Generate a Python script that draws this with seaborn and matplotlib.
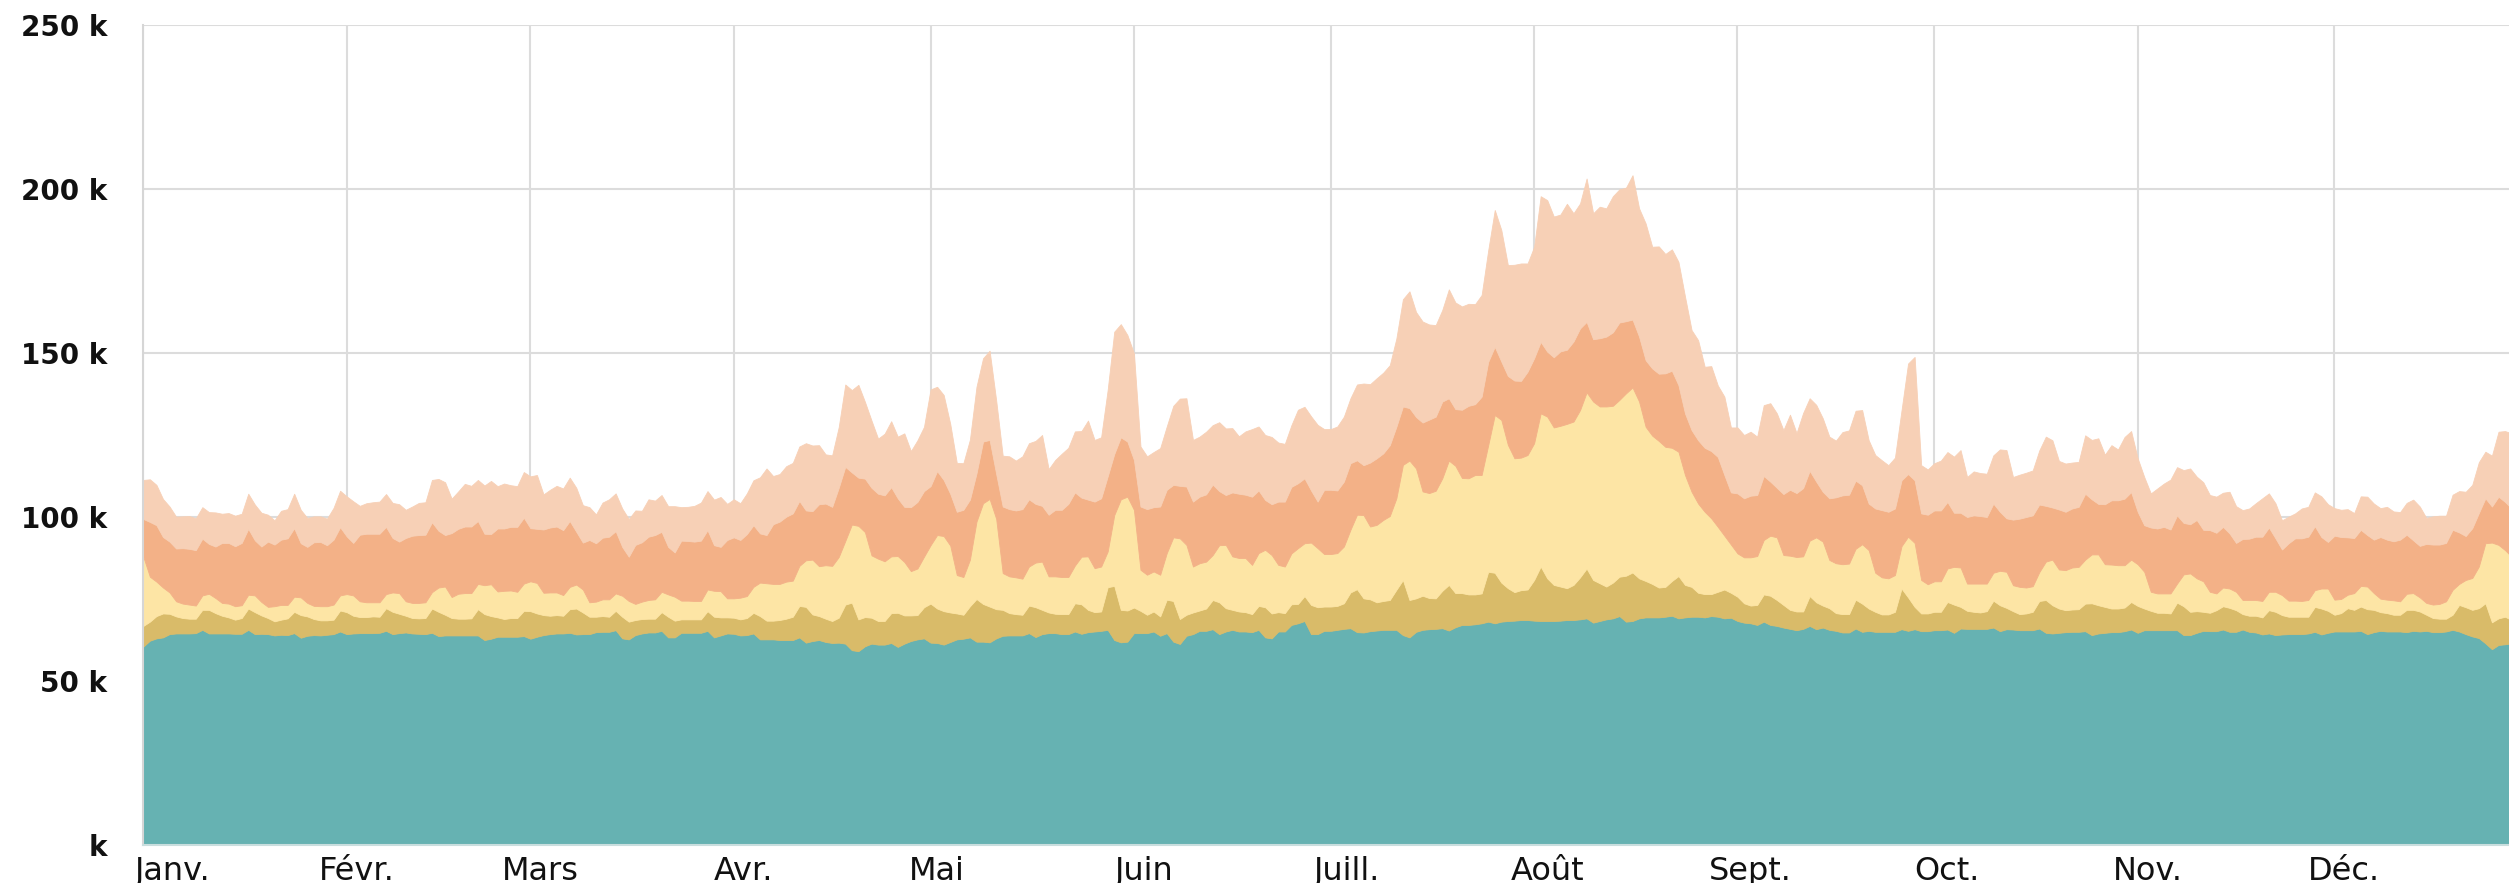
import numpy as np
import pandas as pd
import matplotlib
matplotlib.use("Agg")
import matplotlib.pyplot as plt
import seaborn as sns

# ---------------------------------------------------------
# data: daily values (k), Jan 1 -> late Dec, one list per layer
# ---------------------------------------------------------
teal = [
    60.5, 62.3, 63.0, 63.3, 64.3, 64.5, 64.5, 64.5, 64.6, 65.6,
    64.5, 64.5, 64.5, 64.5, 64.4, 64.4, 65.6, 64.3, 64.4, 64.3,
    63.9, 64.1, 64.0, 64.6, 63.2, 63.8, 64.0, 63.9, 64.1, 64.3,
    65.1, 64.3, 64.5, 64.6, 64.6, 64.6, 64.7, 65.3, 64.3, 64.6,
    64.8, 64.5, 64.4, 64.3, 64.7, 63.7, 63.9, 63.9, 63.9, 63.9,
    63.9, 63.9, 62.5, 62.9, 63.5, 63.5, 63.5, 63.5, 63.7, 62.9,
    63.5, 64.0, 64.3, 64.5, 64.5, 64.7, 64.2, 64.3, 64.3, 64.9,
    65.0, 65.0, 65.5, 63.0, 62.7, 64.0, 64.5, 64.8, 64.8, 65.3,
    63.3, 63.3, 64.7, 64.7, 64.7, 64.7, 65.3, 63.3, 63.9, 64.5,
    64.4, 63.9, 64.0, 64.5, 62.7, 62.7, 62.7, 62.5, 62.5, 62.5,
    63.3, 61.7, 62.2, 62.5, 61.9, 61.6, 61.7, 61.4, 59.4, 59.1,
    60.6, 61.4, 61.1, 61.1, 61.6, 60.4, 61.4, 62.2, 62.7, 63.0,
    61.7, 61.6, 61.1, 61.9, 62.7, 62.9, 63.3, 62.0, 62.0, 61.8,
    63.0, 63.8, 63.9, 63.9, 63.9, 64.6, 63.4, 64.3, 64.6, 64.6,
    64.3, 64.3, 65.1, 64.4, 64.9, 65.1, 65.3, 65.6, 62.5, 61.8,
    62.0, 64.6, 64.6, 64.6, 65.1, 63.8, 64.6, 62.0, 61.3, 63.8,
    64.3, 65.3, 65.3, 65.8, 64.3, 65.1, 65.6, 65.1, 65.1, 64.9,
    65.6, 63.3, 63.0, 65.1, 65.1, 67.1, 67.6, 68.3, 64.3, 64.3,
    65.3, 65.3, 65.6, 65.9, 66.1, 64.9, 64.8, 65.2, 65.4, 65.6,
    65.6, 65.6, 64.0, 63.3, 65.0, 65.6, 65.8, 65.9, 66.1, 65.4,
    66.4, 67.1, 67.1, 67.3, 67.6, 68.1, 67.6, 68.1, 68.3, 68.4,
    68.6, 68.6, 68.4, 68.3, 68.3, 68.3, 68.4, 68.6, 68.6, 68.8,
    69.1, 67.8, 68.3, 68.8, 69.1, 69.8, 68.1, 68.3, 69.1, 69.4,
    69.4, 69.4, 69.6, 69.9, 69.1, 69.4, 69.6, 69.6, 69.4, 69.8,
    69.6, 69.1, 69.3, 68.3, 67.8, 67.6, 67.1, 68.1, 67.1, 66.8,
    66.3, 65.9, 65.5, 65.9, 66.8, 65.8, 66.3, 65.6, 65.3, 64.8,
    64.8, 66.0, 65.0, 65.3, 65.0, 65.0, 65.0, 65.0, 65.8, 65.3,
    65.8, 65.2, 65.2, 65.5, 65.5, 65.7, 64.7, 66.0, 65.9, 65.9,
    65.9, 65.9, 66.3, 65.2, 65.8, 65.7, 65.5, 65.5, 65.5, 66.0,
    64.7, 64.5, 64.7, 64.9, 65.0, 65.0, 65.2, 64.0, 64.5, 64.7,
    64.9, 64.9, 65.2, 65.7, 64.7, 65.5, 65.5, 65.5, 65.5, 65.5,
    65.5, 64.0, 64.0, 64.7, 65.3, 65.2, 65.2, 65.7, 65.0, 65.0,
    65.7, 65.0, 64.8, 64.2, 64.5, 64.0, 64.2, 64.3, 64.3, 64.3,
    64.5, 65.0, 64.2, 64.7, 65.1, 65.1, 65.1, 65.1, 65.3, 64.3,
    64.9, 65.3, 65.1, 65.1, 65.1, 64.9, 65.3, 65.1, 65.3, 64.9,
    64.9, 65.1, 65.6, 65.1, 64.3, 63.6, 63.1, 61.5, 59.7, 61.0,
    61.2, 61.5,
]

dark_yellow = [
    6.3, 5.8, 6.8, 7.3, 6.2, 5.2, 4.7, 4.5, 4.4, 6.1,
    7.2, 6.2, 5.4, 4.9, 4.3, 4.8, 6.5, 6.7, 5.6, 4.9,
    4.3, 4.6, 5.1, 6.5, 6.9, 5.9, 4.9, 4.6, 4.4, 4.4,
    6.4, 6.7, 5.4, 4.9, 4.9, 5.1, 4.9, 6.9, 6.8, 5.9,
    5.1, 4.7, 4.7, 4.9, 7.4, 7.4, 6.3, 5.3, 5.1, 5.1,
    5.2, 8.0, 7.9, 6.9, 5.9, 5.4, 5.7, 5.7, 7.7, 8.4,
    7.1, 6.1, 5.6, 5.6, 5.4, 7.2, 7.9, 6.6, 5.3, 4.7,
    4.8, 4.6, 5.9, 6.6, 5.4, 4.6, 4.4, 4.2, 4.2, 5.7,
    6.3, 5.1, 4.1, 4.1, 4.1, 4.1, 6.0, 6.3, 5.5, 4.9,
    4.9, 4.9, 5.2, 6.3, 7.1, 5.7, 5.7, 6.1, 6.5, 7.1,
    9.6, 10.9, 8.1, 7.3, 7.1, 6.7, 7.6, 11.9, 14.5, 9.7,
    8.9, 7.9, 7.2, 7.2, 9.1, 10.4, 8.6, 7.8, 7.4, 9.5,
    11.9, 10.5, 10.2, 9.0, 7.9, 7.3, 9.5, 13.0, 11.5, 10.9,
    8.9, 7.9, 6.8, 6.5, 6.3, 8.4, 9.1, 7.4, 6.3, 5.9,
    6.1, 6.1, 8.6, 9.0, 6.8, 5.9, 5.9, 13.0, 16.5, 9.9,
    9.5, 7.8, 6.8, 5.6, 6.1, 5.9, 10.2, 12.4, 7.6, 6.4,
    6.6, 6.2, 6.8, 8.9, 9.7, 7.1, 6.1, 6.1, 5.9, 5.5,
    7.3, 9.2, 7.6, 5.9, 5.6, 6.3, 5.9, 7.6, 8.9, 8.2,
    7.4, 7.4, 7.3, 7.8, 10.9, 13.1, 10.4, 9.7, 8.6, 8.8,
    9.1, 12.2, 16.8, 11.4, 10.2, 10.4, 9.5, 9.3, 11.4, 13.9,
    10.4, 9.7, 9.3, 9.1, 9.1, 15.2, 15.4, 11.9, 10.0, 8.7,
    9.1, 9.3, 12.4, 16.6, 13.0, 11.0, 10.4, 9.7, 10.7, 12.8,
    15.2, 13.0, 11.5, 10.0, 10.9, 12.0, 14.0, 14.8, 12.2, 11.1,
    10.2, 9.1, 9.1, 10.6, 12.9, 9.9, 9.1, 7.3, 7.1, 6.7,
    7.6, 8.8, 7.6, 7.4, 5.9, 5.4, 6.1, 8.3, 8.9, 7.9,
    6.9, 5.8, 5.7, 5.3, 9.1, 8.2, 6.7, 6.6, 5.4, 5.6,
    5.6, 8.8, 8.6, 6.8, 6.1, 5.3, 5.3, 6.1, 12.4, 10.2,
    6.8, 5.4, 5.4, 5.6, 5.6, 8.4, 8.6, 6.6, 5.5, 5.2,
    5.0, 5.4, 8.2, 7.9, 6.5, 5.6, 4.9, 5.1, 5.6, 8.4,
    10.0, 8.6, 7.4, 6.7, 6.8, 6.9, 8.4, 9.7, 8.6, 7.9,
    7.2, 7.2, 7.2, 8.4, 8.2, 6.6, 5.9, 5.3, 5.3, 5.1,
    8.4, 8.8, 7.1, 6.6, 5.8, 5.6, 6.4, 7.1, 7.3, 6.6,
    4.7, 4.9, 5.1, 5.2, 7.1, 7.1, 5.9, 5.3, 5.3, 5.3,
    5.1, 7.6, 7.9, 6.7, 5.1, 5.6, 7.1, 6.6, 7.4, 7.6,
    6.8, 5.7, 5.6, 5.1, 5.1, 6.8, 6.4, 6.1, 4.9, 4.3,
    4.1, 3.9, 4.6, 8.1, 8.2, 8.1, 9.1, 12.2, 8.2, 8.1,
    8.4, 7.1,
]

light_yellow = [
    21.1, 13.7, 10.5, 7.9, 6.5, 4.6, 4.4, 4.3, 4.0, 4.4,
    4.9, 4.6, 3.9, 4.2, 4.1, 3.9, 4.2, 5.1, 4.1, 3.4,
    4.6, 4.5, 4.1, 4.6, 5.4, 4.1, 4.0, 4.3, 4.3, 4.6,
    4.6, 5.5, 6.2, 4.8, 4.5, 4.3, 4.4, 4.3, 5.9, 6.3,
    4.4, 4.6, 4.7, 4.8, 5.0, 7.4, 8.6, 6.4, 7.6, 7.8,
    7.7, 7.7, 8.8, 9.7, 7.9, 8.6, 8.4, 8.0, 8.3, 9.1,
    9.3, 6.8, 7.1, 6.9, 6.3, 6.8, 7.3, 7.0, 4.4, 4.6,
    5.1, 5.3, 5.3, 6.4, 6.3, 4.9, 5.3, 5.7, 5.9, 6.2,
    6.8, 7.3, 5.7, 5.7, 5.6, 5.6, 6.6, 7.9, 8.0, 5.8,
    5.9, 6.6, 6.7, 7.9, 10.2, 11.4, 11.2, 11.0, 11.3, 11.0,
    12.2, 14.2, 16.7, 15.2, 16.3, 16.8, 18.5, 19.4, 23.8, 28.5,
    25.9, 19.0, 19.0, 18.2, 17.3, 17.3, 16.3, 13.5, 14.2, 15.4,
    17.8, 22.4, 22.9, 20.4, 11.7, 11.5, 14.2, 23.6, 30.7, 32.8,
    27.6, 11.2, 11.2, 11.2, 11.0, 11.9, 13.6, 14.7, 11.0, 11.4,
    11.3, 11.3, 11.5, 14.5, 16.3, 13.4, 13.7, 10.9, 21.6, 33.7,
    34.7, 29.8, 12.5, 12.2, 12.2, 12.7, 14.2, 19.4, 24.6, 21.3,
    14.0, 14.4, 14.3, 13.7, 17.4, 19.3, 16.3, 16.3, 16.5, 15.0,
    16.1, 17.5, 17.8, 14.4, 14.2, 15.5, 17.0, 16.1, 19.0, 18.0,
    16.0, 16.0, 16.1, 17.3, 19.1, 22.7, 25.4, 22.2, 23.6, 24.7,
    25.6, 27.9, 35.1, 42.5, 39.6, 31.8, 32.0, 32.8, 34.3, 37.9,
    38.8, 35.1, 35.4, 36.4, 36.1, 38.6, 48.1, 49.6, 43.7, 40.8,
    40.4, 41.0, 41.7, 46.7, 49.3, 48.0, 49.0, 50.1, 49.8, 51.0,
    53.7, 54.4, 53.9, 54.9, 53.9, 53.9, 55.6, 56.4, 53.9, 47.0,
    45.2, 44.7, 42.7, 40.6, 37.9, 33.5, 29.0, 27.2, 25.1, 23.1,
    19.8, 16.4, 14.7, 13.2, 14.0, 14.7, 14.9, 16.6, 18.3, 19.1,
    15.2, 16.5, 16.6, 16.8, 16.9, 19.8, 19.5, 14.7, 15.2, 15.2,
    15.4, 15.5, 18.1, 17.8, 11.9, 11.3, 11.0, 11.2, 12.9, 18.5,
    19.5, 10.2, 8.9, 9.3, 9.3, 10.2, 11.5, 12.0, 8.3, 8.6,
    8.8, 8.4, 8.5, 10.5, 11.0, 7.9, 8.3, 7.9, 7.8, 8.8,
    11.7, 13.9, 11.9, 12.2, 12.8, 12.9, 13.4, 14.9, 15.5, 13.0,
    13.4, 13.2, 12.9, 12.9, 12.7, 11.2, 5.8, 5.9, 5.9, 6.1,
    5.8, 9.7, 11.7, 10.0, 9.3, 6.4, 5.1, 5.7, 5.9, 5.6,
    4.3, 4.8, 4.8, 5.0, 5.6, 6.1, 6.1, 4.9, 4.9, 4.8,
    5.1, 5.1, 6.1, 6.8, 4.6, 4.3, 4.1, 5.1, 6.3, 6.9,
    5.1, 4.1, 4.1, 4.4, 4.1, 4.9, 5.1, 4.3, 3.6, 4.1,
    4.5, 5.3, 7.6, 6.4, 8.3, 9.7, 12.7, 18.3, 24.3, 22.4,
    20.3, 19.3,
]

orange = [
    11.5, 16.7, 17.2, 15.4, 15.5, 16.1, 16.9, 17.0, 16.9, 17.3,
    15.2, 15.7, 18.3, 18.5, 18.3, 19.0, 20.1, 16.8, 16.9, 19.9,
    18.8, 19.9, 20.3, 20.9, 16.5, 17.1, 19.4, 19.6, 18.6, 19.8,
    20.8, 17.6, 16.0, 20.3, 20.9, 20.9, 20.9, 20.5, 16.6, 15.7,
    19.3, 20.5, 20.7, 20.6, 21.3, 17.3, 15.7, 19.5, 19.8, 20.3,
    20.3, 19.2, 15.7, 15.3, 19.2, 19.0, 19.4, 19.8, 20.1, 16.2,
    16.5, 19.3, 19.8, 20.1, 19.8, 20.1, 16.1, 14.3, 19.0, 17.8,
    18.8, 19.1, 19.0, 14.9, 13.5, 18.0, 18.1, 19.3, 19.6, 18.3,
    14.5, 13.5, 18.3, 18.2, 18.1, 18.4, 18.1, 13.9, 13.5, 17.8,
    18.6, 17.6, 18.9, 18.8, 15.0, 14.7, 18.2, 19.0, 19.8, 20.5,
    19.8, 15.2, 14.8, 18.9, 18.8, 18.0, 21.1, 22.6, 15.9, 14.7,
    16.3, 20.6, 19.8, 20.1, 21.1, 17.6, 16.8, 19.5, 20.3, 20.0,
    18.0, 19.5, 17.1, 15.8, 19.3, 20.5, 18.3, 14.7, 18.8, 18.0,
    13.7, 20.3, 20.5, 20.4, 21.2, 20.5, 17.9, 17.0, 18.8, 20.3,
    20.5, 22.3, 22.3, 18.0, 17.3, 20.3, 20.8, 22.9, 18.6, 18.9,
    16.8, 15.2, 19.3, 20.0, 19.6, 20.8, 19.3, 16.0, 16.0, 17.8,
    19.8, 20.3, 20.5, 21.5, 16.5, 15.2, 19.5, 19.6, 19.3, 20.8,
    19.1, 15.2, 15.5, 19.3, 19.8, 20.3, 19.8, 19.8, 15.9, 14.2,
    19.6, 19.6, 19.1, 19.8, 20.3, 16.6, 15.2, 19.5, 20.3, 20.3,
    21.6, 21.8, 17.8, 16.0, 15.7, 21.0, 22.4, 22.6, 23.4, 19.0,
    17.3, 20.8, 22.1, 21.6, 23.9, 25.4, 20.8, 17.8, 21.0, 23.7,
    23.4, 25.4, 25.9, 21.8, 19.8, 21.4, 22.7, 22.6, 24.4, 24.9,
    21.5, 19.0, 20.8, 21.3, 22.4, 23.6, 22.0, 20.7, 19.8, 20.3,
    20.5, 20.5, 22.4, 23.5, 20.3, 18.8, 18.8, 19.3, 19.5, 20.5,
    21.3, 18.5, 15.9, 18.3, 18.0, 18.8, 18.6, 19.5, 16.5, 15.1,
    18.6, 20.1, 19.5, 20.8, 21.3, 17.0, 15.2, 18.8, 20.1, 21.0,
    21.0, 20.8, 18.0, 14.2, 19.6, 20.5, 20.3, 20.3, 20.1, 19.1,
    19.1, 20.3, 21.2, 21.6, 21.6, 20.3, 16.5, 16.7, 20.3, 20.8,
    20.6, 20.3, 21.1, 18.0, 16.3, 20.0, 20.8, 21.5, 21.6, 20.6,
    17.0, 15.9, 18.3, 17.8, 18.0, 18.3, 20.1, 16.8, 15.4, 18.3,
    19.6, 19.8, 20.3, 20.6, 16.0, 14.2, 19.6, 19.8, 20.3, 19.5,
    20.8, 15.7, 15.0, 17.8, 15.7, 18.8, 18.5, 18.5, 16.8, 14.9,
    18.6, 18.7, 19.3, 19.6, 19.6, 16.3, 13.9, 17.5, 19.0, 19.1,
    19.3, 19.5, 15.7, 14.2, 19.5, 18.9, 17.5, 16.8, 17.1, 15.7,
    16.3, 18.8, 18.3, 18.0, 18.8, 18.0, 16.1, 15.7, 18.0, 18.3,
    18.1, 17.8, 18.3, 15.7, 13.4, 15.2, 16.3, 13.7, 11.0, 14.7,
    14.7, 14.7,
]

peach = [
    11.9, 13.0, 12.3, 11.6, 10.7, 9.7, 9.7, 10.0, 9.7, 9.6,
    9.7, 10.4, 8.9, 9.1, 9.3, 8.9, 10.7, 10.9, 10.3, 8.2,
    7.4, 8.8, 8.9, 10.5, 10.2, 8.8, 7.9, 7.8, 8.1, 9.7,
    11.1, 12.2, 12.7, 8.8, 9.3, 9.6, 9.8, 10.0, 10.7, 11.4,
    8.6, 8.9, 9.8, 9.9, 12.9, 15.8, 16.1, 10.5, 11.4, 13.0,
    12.4, 12.5, 14.7, 16.2, 12.9, 13.7, 12.7, 12.4, 13.9, 15.8,
    16.4, 10.7, 11.5, 12.4, 12.7, 13.2, 13.4, 11.4, 10.0, 8.8,
    10.7, 11.4, 11.5, 11.7, 11.5, 10.5, 9.6, 11.4, 10.5, 11.2,
    12.4, 14.1, 10.2, 10.4, 10.9, 11.6, 11.9, 13.9, 15.2, 11.0,
    11.6, 11.2, 12.4, 13.7, 17.1, 20.3, 14.7, 14.5, 15.4, 15.4,
    16.6, 20.5, 20.0, 18.0, 15.0, 15.7, 18.5, 25.1, 25.1, 28.3,
    23.4, 20.5, 16.8, 18.8, 20.1, 18.8, 22.4, 17.1, 18.8, 19.6,
    29.5, 25.7, 25.9, 21.3, 14.9, 14.2, 18.3, 26.4, 25.4, 27.2,
    22.4, 15.5, 16.1, 15.2, 16.1, 17.1, 19.2, 21.6, 13.9, 15.2,
    17.1, 17.1, 18.6, 20.3, 24.1, 18.8, 18.6, 26.4, 37.3, 34.5,
    32.5, 32.5, 18.3, 16.1, 16.8, 17.8, 19.3, 24.1, 26.6, 26.9,
    18.8, 18.3, 19.1, 18.1, 21.0, 20.3, 19.6, 17.5, 19.3, 20.6,
    19.5, 19.8, 20.5, 18.0, 17.6, 18.8, 22.4, 21.8, 22.6, 23.4,
    18.5, 18.5, 19.5, 19.8, 19.8, 23.1, 24.9, 23.9, 24.4, 24.6,
    24.4, 26.9, 32.7, 35.6, 32.0, 30.8, 29.0, 27.9, 27.9, 33.2,
    32.5, 31.5, 31.1, 30.5, 31.0, 34.0, 41.7, 40.1, 33.8, 35.3,
    35.8, 33.0, 34.0, 44.4, 46.2, 42.9, 41.7, 44.5, 39.1, 38.1,
    43.7, 38.4, 40.1, 39.1, 41.5, 40.6, 40.7, 44.0, 39.1, 41.7,
    37.1, 38.8, 36.4, 37.0, 37.6, 35.6, 30.5, 30.5, 24.7, 25.9,
    21.8, 23.9, 19.8, 20.1, 19.3, 19.5, 17.8, 21.6, 23.9, 22.7,
    19.5, 22.9, 18.3, 22.9, 22.1, 23.4, 22.4, 18.8, 17.3, 19.3,
    19.6, 21.3, 22.9, 19.3, 16.3, 15.2, 14.2, 15.5, 21.3, 33.7,
    37.6, 14.7, 13.8, 14.4, 15.2, 15.2, 17.1, 19.1, 12.2, 13.4,
    13.1, 13.2, 14.7, 19.0, 20.8, 13.0, 13.4, 13.5, 13.7, 16.5,
    21.1, 20.5, 14.8, 14.7, 14.0, 13.7, 17.8, 18.1, 20.0, 15.1,
    16.8, 15.5, 18.8, 18.6, 16.3, 14.7, 10.4, 12.2, 13.2, 15.2,
    14.7, 16.1, 17.0, 13.2, 14.5, 10.7, 11.0, 10.4, 12.7, 11.2,
    8.8, 9.2, 10.2, 11.7, 10.4, 10.7, 8.9, 8.1, 7.6, 9.1,
    9.1, 10.3, 12.4, 11.5, 8.4, 8.3, 8.6, 7.6, 10.2, 11.7,
    11.0, 8.8, 10.0, 9.1, 8.4, 9.7, 12.4, 12.0, 7.9, 8.6,
    8.8, 8.3, 10.7, 12.6, 13.5, 13.2, 15.5, 14.2, 15.5, 19.8,
    21.6, 22.9,
]

month_starts = [0, 31, 59, 90, 120, 151, 181, 212, 243, 273, 304, 334]
month_label_pos = [4.5, 32.5, 60.5, 91.5, 121.0, 152.5, 183.5, 214.0, 245.0, 275.0, 305.5, 335.5]
month_labels = ['Janv.', 'Févr.', 'Mars', 'Avr.', 'Mai', 'Juin',
                'Juill.', 'Août', 'Sept.', 'Oct.', 'Nov.', 'Déc.']
y_ticks = [0, 50, 100, 150, 200, 250]
y_labels = ['k', '50 k', '100 k', '150 k', '200 k', '250 k']

colors = ['#66b2b2', '#d9bb69', '#fde5a5', '#f3b187', '#f7d0b6']

df = pd.DataFrame({
    'jour': np.arange(len(teal)),
    'teal': teal,
    'dark_yellow': dark_yellow,
    'light_yellow': light_yellow,
    'orange': orange,
    'peach': peach,
})
layers = ['teal', 'dark_yellow', 'light_yellow', 'orange', 'peach']

# ---------------------------------------------------------
# plot
# ---------------------------------------------------------
sns.set_theme(style='whitegrid')
plt.rcParams['font.family'] = ['DejaVu Sans']

W, H = 2509, 883
fig = plt.figure(figsize=(W / 100, H / 100), dpi=100)
ax = fig.add_axes([143.3 / W, (H - 845) / H, (W - 143.3) / W, 820 / H])

polys = ax.stackplot(df['jour'], *[df[c] for c in layers], colors=colors, linewidth=0)
for poly, c in zip(polys, colors):
    poly.set_edgecolor(c)
    poly.set_linewidth(0.6)

ax.set_xlim(0, 360.6)
ax.set_ylim(0, 250)

ax.set_xticks(month_starts)
ax.set_xticklabels([])
ax.set_xticks(month_label_pos, minor=True)
ax.set_xticklabels(month_labels, minor=True)
ax.set_yticks(y_ticks)
ax.set_yticklabels(y_labels)

ax.grid(True, which='major', color='#dcdcdc', linewidth=1.5)
ax.grid(False, which='minor')
ax.set_axisbelow(True)

ax.tick_params(axis='y', length=0, pad=26, labelsize=20, labelcolor='#111111')
ax.tick_params(axis='x', which='both', length=0, pad=8, labelsize=23, labelcolor='#111111')
for lab in ax.get_yticklabels():
    lab.set_fontweight('bold')

for side in ['top', 'right']:
    ax.spines[side].set_visible(False)
ax.spines['left'].set_color('#d6d6d6')
ax.spines['left'].set_linewidth(1.5)
ax.spines['left'].set_zorder(5)
ax.spines['bottom'].set_color('#c9dede')
ax.spines['bottom'].set_linewidth(1.5)
ax.spines['bottom'].set_zorder(5)

ax.set_xlabel('')
ax.set_ylabel('')

fig.savefig('out.png', dpi=100)
